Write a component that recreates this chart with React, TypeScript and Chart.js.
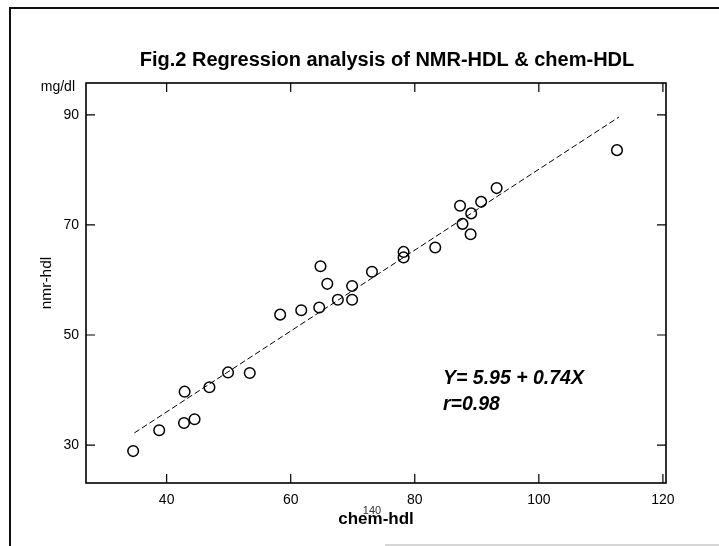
import React, { useEffect, useRef } from "react";
import { Chart, registerables } from "chart.js";

Chart.register(...registerables);

// ---- data ----
const chemHdl = [34.6, 38.8, 42.8, 44.5, 42.9, 46.9, 49.9, 53.4, 58.3, 61.7, 64.6, 64.8, 65.9, 67.6, 69.9, 69.9, 73.1, 78.2, 78.2, 83.3, 87.3, 87.7, 89.0, 89.1, 90.7, 93.2, 112.6];
const nmrHdl = [28.9, 32.7, 34.0, 34.7, 39.7, 40.5, 43.2, 43.1, 53.7, 54.5, 55.0, 62.5, 59.3, 56.4, 56.4, 58.9, 61.5, 65.1, 64.1, 65.9, 73.5, 70.2, 68.3, 72.1, 74.2, 76.7, 83.6];
const fitX = [34.8, 112.9];
const fitY = [32.2, 89.6];
const xTicks = [40, 60, 80, 100, 120];
const yTicks = [30, 50, 70, 90];
const xRange = [27.0, 120.5];
const yRange = [23.1, 95.8];
const titleText = "Fig.2 Regression analysis of NMR-HDL & chem-HDL";
const unitText = "mg/dl";
const xTitle = "chem-hdl";
const yTitle = "nmr-hdl";
const eqLines = ["Y= 5.95 + 0.74X", "r=0.98"];
const strayText = "140";

const FONT = "'Liberation Sans', Arial, Helvetica, sans-serif";

const decor = {
  id: "decor",
  beforeDraw(chart: any) {
    const ctx = chart.ctx;
    ctx.save();
    ctx.fillStyle = "#fff";
    ctx.fillRect(0, 0, chart.width, chart.height);
    ctx.strokeStyle = "#111";
    ctx.lineWidth = 2;
    ctx.beginPath();
    ctx.moveTo(10, 546);
    ctx.lineTo(10, 8);
    ctx.lineTo(719, 8);
    ctx.stroke();
    ctx.strokeStyle = "#c8c8c8";
    ctx.lineWidth = 1.5;
    ctx.beginPath();
    ctx.moveTo(385, 545);
    ctx.lineTo(719, 545);
    ctx.stroke();
    ctx.restore();
  },
  afterDraw(chart: any) {
    const { ctx, chartArea: a, scales } = chart;
    const xs = scales.x;
    const ys = scales.y;
    ctx.save();
    ctx.strokeStyle = "#000";
    ctx.lineWidth = 1.6;
    ctx.strokeRect(a.left, a.top, a.right - a.left, a.bottom - a.top);
    ctx.lineWidth = 1.2;
    const L = 9;
    ctx.beginPath();
    xTicks.forEach((v) => {
      const px = xs.getPixelForValue(v);
      ctx.moveTo(px, a.bottom);
      ctx.lineTo(px, a.bottom - L);
      ctx.moveTo(px, a.top);
      ctx.lineTo(px, a.top + L);
    });
    yTicks.forEach((v) => {
      const py = ys.getPixelForValue(v);
      ctx.moveTo(a.left, py);
      ctx.lineTo(a.left + L, py);
      ctx.moveTo(a.right, py);
      ctx.lineTo(a.right - L, py);
    });
    ctx.stroke();

    ctx.fillStyle = "#000";
    ctx.textBaseline = "middle";
    ctx.textAlign = "center";
    ctx.font = `bold 20px ${FONT}`;
    ctx.fillText(titleText, 387, 60);

    ctx.font = `14px ${FONT}`;
    ctx.textAlign = "right";
    ctx.fillText(unitText, 75, 87);

    ctx.font = `italic bold 19.5px ${FONT}`;
    ctx.textAlign = "left";
    ctx.fillText(eqLines[0], 443, 379);
    ctx.fillText(eqLines[1], 443, 405);

    ctx.font = `11px ${FONT}`;
    ctx.fillStyle = "#333";
    ctx.textAlign = "center";
    ctx.fillText(strayText, 372, 511);
    ctx.restore();
  },
};

export default function App() {
  const ref = useRef<HTMLCanvasElement | null>(null);

  useEffect(() => {
    if (!ref.current) return;
    const chart = new Chart(ref.current, {
      type: "scatter",
      data: {
        datasets: [
          {
            data: fitX.map((v, i) => ({ x: v, y: fitY[i] })),
            showLine: true,
            borderColor: "#000",
            borderWidth: 1,
            borderDash: [6, 3],
            pointRadius: 0,
            pointHoverRadius: 0,
            fill: false,
          },
          {
            data: chemHdl.map((v, i) => ({ x: v, y: nmrHdl[i] })),
            pointRadius: 5.3,
            pointHoverRadius: 5.3,
            pointBorderWidth: 1.5,
            borderColor: "#000",
            backgroundColor: "rgba(0,0,0,0)",
          },
        ],
      },
      options: {
        responsive: false,
        animation: false,
        devicePixelRatio: 1,
        events: [],
        layout: { padding: { left: 0, top: 83, right: 53, bottom: 0 } },
        plugins: {
          legend: { display: false },
          tooltip: { enabled: false },
          title: { display: false },
        },
        scales: {
          x: {
            type: "linear",
            position: "bottom",
            min: xRange[0],
            max: xRange[1],
            afterBuildTicks: (s: any) => {
              s.ticks = xTicks.map((v) => ({ value: v }));
            },
            afterFit: (s: any) => {
              s.height = 63;
            },
            grid: { display: false, drawTicks: false },
            border: { display: false },
            ticks: {
              padding: 9,
              color: "#000",
              autoSkip: false,
              maxRotation: 0,
              font: { family: FONT, size: 14 },
            },
            title: {
              display: true,
              text: xTitle,
              color: "#000",
              font: { family: FONT, size: 17, weight: "bold", lineHeight: 1 },
              padding: { top: 0, bottom: 18.5 },
            },
          },
          y: {
            type: "linear",
            position: "left",
            min: yRange[0],
            max: yRange[1],
            afterBuildTicks: (s: any) => {
              s.ticks = yTicks.map((v) => ({ value: v }));
            },
            afterFit: (s: any) => {
              s.width = 86;
            },
            grid: { display: false, drawTicks: false },
            border: { display: false },
            ticks: {
              padding: 7,
              color: "#000",
              font: { family: FONT, size: 14 },
            },
            title: {
              display: true,
              text: yTitle,
              color: "#000",
              font: { family: FONT, size: 15.5, lineHeight: 1 },
              padding: { top: 39, bottom: 0 },
            },
          },
        },
      },
      plugins: [decor],
    } as any);
    return () => chart.destroy();
  }, []);

  return (
    <div style={{ position: "absolute", left: 0, top: 0, width: 719, height: 546 }}>
      <canvas ref={ref} width={719} height={546} style={{ display: "block" }} />
    </div>
  );
}
